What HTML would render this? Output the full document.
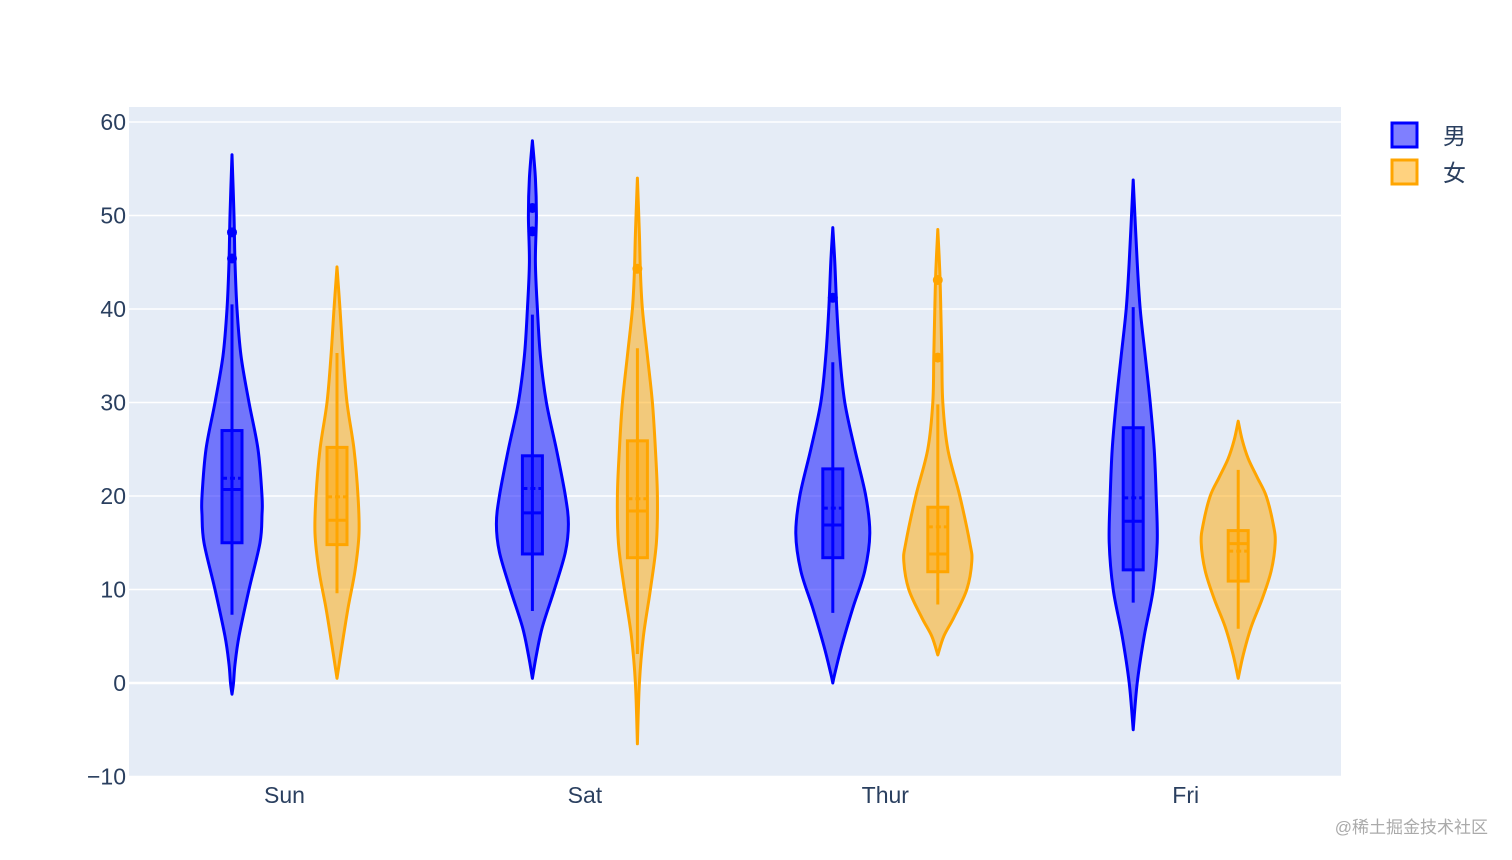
<!DOCTYPE html>
<html><head><meta charset="utf-8">
<style>
html,body{margin:0;padding:0;background:#fff;}
svg{display:block;font-family:"Liberation Sans","Noto Sans CJK SC",sans-serif;}
</style></head>
<body>
<svg id="chart" width="1512" height="860" viewBox="0 0 1512 860">
<rect x="129" y="107" width="1212" height="670" fill="#e5ecf6"/>
<g id="grid"></g><g id="violins"></g><g id="axes"></g>
<g>
 <rect x="1392" y="123" width="25" height="24" fill="rgba(0,0,255,0.5)" stroke="#0000ff" stroke-width="3"/>
 <text x="1443" y="144" font-size="23" fill="#2a3f5f">男</text>
 <rect x="1392" y="160" width="25" height="24" fill="rgba(255,165,0,0.5)" stroke="#ffa500" stroke-width="3"/>
 <text x="1443" y="181" font-size="23" fill="#2a3f5f">女</text>
</g>
<text x="1488" y="833" font-size="17" fill="#aaa" text-anchor="end">@稀土掘金技术社区</text>
</svg>
<script>
const categories=["Sun","Sat","Thur","Fri"];
const yTicks=[-10,0,10,20,30,40,50,60];
// density profiles: [value, relative half-width px]
const maleProfiles=[
 [[56.5,0],[50,2],[45,3],[40,5],[35,9],[30,17],[25,26],[20,30],[18,30],[15,28],[10,17],[5,7],[2,3],[0,1.5],[-1.2,0]],
 [[58,0],[54,3],[50,4],[45,3],[40,5],[35,8],[30,14],[25,24],[20,33],[17,36],[14,33],[10,22],[6,10],[3,4],[0.5,0]],
 [[48.7,0],[45,2],[40,4],[35,7],[30,12],[25,22],[20,33],[16,37],[12,32],[8,20],[4,9],[1,2],[0,0]],
 [[53.8,0],[45,4],[40,7],[35,12],[30,17],[25,21],[20,23],[15,24],[10,20],[5,11],[0,4],[-5,0]]
];
const femaleProfiles=[
 [[44.5,0],[40,3],[35,6],[30,10],[25,17],[20,21],[16,22],[12,18],[8,11],[4,5],[0.5,0]],
 [[54,0],[48,2],[44,3],[40,5],[35,10],[30,15],[25,18],[20,20],[15,19],[10,13],[5,6],[0,2],[-6.5,0]],
 [[48.5,0],[44,2],[40,3],[35,4],[30,5],[25,10],[20,22],[15,32],[13,34],[10,29],[7,16],[5,6],[3,0]],
 [[28,0],[26,4],[24,10],[22,19],[20,28],[17,35],[15,37],[12,33],[9,24],[6,13],[3,5],[0.5,0]]
];
// box stats: [whiskerLow, q1, median, q3, whiskerHigh, mean]
const maleBoxes=[[7.3,15,20.7,27,40.5,21.9],[7.7,13.8,18.2,24.3,39.4,20.8],[7.5,13.4,16.9,22.9,34.3,18.7],[8.6,12.1,17.3,27.3,40.2,19.8]];
const femaleBoxes=[[9.6,14.8,17.4,25.2,35.3,19.9],[3.1,13.4,18.4,25.9,35.8,19.7],[8.4,11.9,13.8,18.8,29.8,16.7],[5.8,10.9,14.9,16.3,22.8,14.1]];
const maleOutliers=[[45.4,48.2],[48.3,50.8],[41.2],[]];
const femaleOutliers=[[],[44.3],[34.8,43.1],[]];

const NS="http://www.w3.org/2000/svg";
const X0=129,W=1212;
const y=v=>683-v*9.35;
const xc=i=>284.5+300.4*i;
function mk(tag,attrs,parent){const e=document.createElementNS(NS,tag);for(const k in attrs)e.setAttribute(k,attrs[k]);parent.appendChild(e);return e;}
const grid=document.getElementById('grid'),axes=document.getElementById('axes'),vg=document.getElementById('violins');
yTicks.forEach(t=>{
 const l=mk('line',{x1:X0,x2:X0+W,y1:y(t),y2:y(t),stroke:'#fff','stroke-width':t===0?2.5:1.5},grid);
 
 
 const tx=mk('text',{x:126,y:y(t)+8,'text-anchor':'end','font-size':23,fill:'#2a3f5f'},axes);
 tx.textContent=t<0?'\u2212'+(-t):String(t);
 
 
});
categories.forEach((c,i)=>{
 const tx=mk('text',{x:xc(i),y:803,'text-anchor':'middle','font-size':23,fill:'#2a3f5f'},axes);
 tx.textContent=c;
 
 
});
function smooth(pts){let d='M'+pts[0][0]+','+pts[0][1];
 for(let i=0;i<pts.length-1;i++){const p0=pts[Math.max(0,i-1)],p1=pts[i],p2=pts[i+1],p3=pts[Math.min(pts.length-1,i+2)];
  const c1=[p1[0]+(p2[0]-p0[0])/6,p1[1]+(p2[1]-p0[1])/6],c2=[p2[0]-(p3[0]-p1[0])/6,p2[1]-(p3[1]-p1[1])/6];
  d+=' C'+c1[0]+','+c1[1]+' '+c2[0]+','+c2[1]+' '+p2[0]+','+p2[1];}
 return d;}
function violin(cx,prof,box,outs,stroke,fill,name){
 const g=mk('g',{},vg);
 
 
 const right=prof.map(p=>[cx+p[1],y(p[0])]);
 const left=prof.slice().reverse().map(p=>[cx-p[1],y(p[0])]);
 const d=smooth(right)+' L'+smooth(left).slice(1)+' Z';
 const p=mk('path',{d:d,fill:fill,stroke:stroke,'stroke-width':3,'stroke-linejoin':'round'},g);
 
 
 const [wl,q1,md,q3,wh,mn]=box;
 const wsk=mk('line',{x1:cx,x2:cx,y1:y(wl),y2:y(wh),stroke:stroke,'stroke-width':3},g);
 
 
 const b=mk('rect',{x:cx-10,y:y(q3),width:20,height:y(q1)-y(q3),fill:fill,stroke:stroke,'stroke-width':3},g);
 
 
 const m=mk('line',{x1:cx-10,x2:cx+10,y1:y(md),y2:y(md),stroke:stroke,'stroke-width':3},g);
 
 
 const mm=mk('line',{x1:cx-10,x2:cx+10,y1:y(mn),y2:y(mn),stroke:stroke,'stroke-width':3,'stroke-dasharray':'5,3'},g);
 
 
 outs.forEach(o=>{const c=mk('circle',{cx:cx,cy:y(o),r:5,fill:stroke},g);
  
  });
}
categories.forEach((c,i)=>{
 violin(xc(i)-52.5,maleProfiles[i],maleBoxes[i],maleOutliers[i],'#0000ff','rgba(0,0,255,0.5)','violin-male-'+c.toLowerCase());
 violin(xc(i)+52.5,femaleProfiles[i],femaleBoxes[i],femaleOutliers[i],'#ffa500','rgba(255,165,0,0.5)','violin-female-'+c.toLowerCase());
});
</script>
</body></html>
